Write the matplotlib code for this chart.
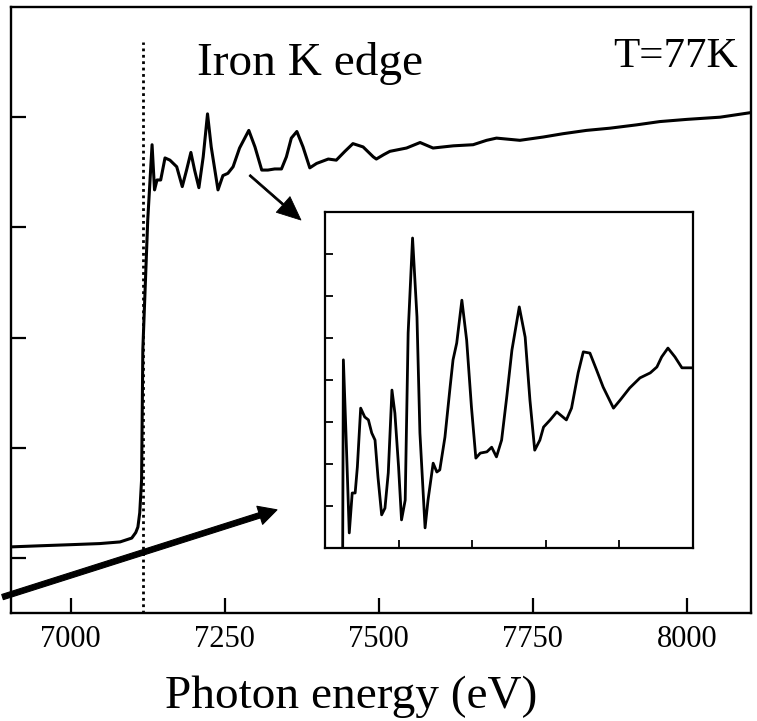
"""Iron K-edge absorption spectrum at 77 K, with a magnified inset of the EXAFS wiggles."""

import matplotlib

matplotlib.use("Agg")
import matplotlib.pyplot as plt

plt.rcParams["font.family"] = ["Liberation Serif", "DejaVu Serif"]

# main spectrum: photon energy (eV) vs absorption (arb. units, ticks at 0..4)
ENERGY = [6903, 6950, 7000, 7047, 7080, 7099, 7105.5, 7109, 7112, 7115, 7117, 7125, 7132,
          7136, 7140, 7146, 7153, 7161, 7172, 7181, 7188, 7195, 7201, 7208, 7215, 7222,
          7228, 7239, 7247, 7255, 7263.5, 7274, 7289, 7299, 7310, 7320, 7331, 7342, 7350,
          7358, 7367, 7377, 7388, 7399, 7418, 7431, 7445, 7458, 7474.5, 7491, 7496, 7508,
          7518, 7545, 7567, 7588, 7621, 7653, 7675, 7691, 7729, 7767, 7799, 7837, 7875,
          7918, 7956, 8000, 8054, 8102]
ABSORB = [0.10, 0.11, 0.12, 0.13, 0.145, 0.18, 0.23, 0.28, 0.41, 0.71, 1.89, 3.07, 3.75,
          3.34, 3.43, 3.43, 3.63, 3.61, 3.55, 3.37, 3.52, 3.68, 3.52, 3.36, 3.64, 4.03,
          3.73, 3.34, 3.47, 3.49, 3.55, 3.72, 3.88, 3.73, 3.52, 3.52, 3.53, 3.53, 3.64,
          3.81, 3.87, 3.73, 3.54, 3.58, 3.62, 3.61, 3.69, 3.76, 3.73, 3.64, 3.62, 3.66,
          3.69, 3.72, 3.77, 3.72, 3.74, 3.75, 3.79, 3.81, 3.79, 3.82, 3.85, 3.88, 3.90,
          3.93, 3.96, 3.98, 4.00, 4.04]

EDGE_EV = 7118

# inset: 7100-7600 eV, magnified vertical scale (ticks at 1..7)
INSET_ENERGY = [7124, 7125, 7128.5, 7133, 7137, 7141, 7144, 7148.5, 7154, 7159, 7163.5, 7168,
                7172, 7177, 7181.5, 7186, 7191, 7195, 7200, 7204, 7209, 7213, 7219, 7225,
                7229, 7236, 7240, 7247, 7252, 7256, 7263, 7270, 7274, 7279, 7286, 7292.5,
                7299, 7305, 7311, 7320, 7326.5, 7333, 7340, 7347, 7354, 7364, 7372, 7378.5,
                7385, 7392, 7397, 7406, 7415, 7428, 7435, 7444, 7451, 7460, 7469, 7478,
                7492, 7501, 7514, 7528, 7542, 7551, 7557.5, 7566, 7575.5, 7585, 7598]
INSET_ABSORB = [-0.3, 4.48, 2.74, 0.36, 1.31, 1.31, 1.93, 3.33, 3.12, 3.05, 2.74, 2.57,
                1.69, 0.79, 0.95, 1.79, 3.76, 3.21, 1.93, 0.67, 1.14, 5.12, 7.38, 5.50,
                2.74, 0.48, 1.14, 2.02, 1.81, 1.86, 2.64, 3.83, 4.48, 4.88, 5.90, 4.95,
                3.36, 2.14, 2.26, 2.29, 2.40, 2.17, 2.57, 3.60, 4.71, 5.74, 5.02, 3.52,
                2.33, 2.57, 2.88, 3.05, 3.24, 3.05, 3.33, 4.17, 4.67, 4.64, 4.24, 3.83,
                3.33, 3.52, 3.81, 4.05, 4.17, 4.31, 4.55, 4.76, 4.55, 4.29, 4.29]

MAIN_XTICKS = [7000, 7250, 7500, 7750, 8000]
MAIN_YTICKS = [0, 1, 2, 3, 4]
INSET_XTICKS = [7200, 7300, 7400, 7500]
INSET_YTICKS = [1, 2, 3, 4, 5, 6, 7]


def main() -> None:
    fig = plt.figure(figsize=(7.57, 7.21), dpi=100)
    ax = fig.add_axes([0.0145, 0.1498, 0.9775, 0.8405])
    ax.plot(ENERGY, ABSORB, color="black", lw=2.2, solid_joinstyle="round")
    ax.plot([EDGE_EV, EDGE_EV], [-0.5, 4.68], color="black", lw=2.0, linestyle=(0, (1.0, 1.3)))
    ax.set_xlim(6903, 8104)
    ax.set_ylim(-0.5, 5.0)
    ax.set_xticks(MAIN_XTICKS)
    ax.set_yticks(MAIN_YTICKS)
    ax.set_yticklabels([])
    ax.tick_params(direction="in", length=10.5, width=1.6, labelsize=22, pad=9)
    for s in ax.spines.values():
        s.set_linewidth(1.7)

    fig.text(197 / 757, 1 - 75 / 721, "Iron K edge", fontsize=34, va="baseline", ha="left")
    fig.text(738 / 757, 1 - 67 / 721, "T=77K", fontsize=31, va="baseline", ha="right")
    fig.text(351 / 757, 1 - 708 / 721, "Photon energy (eV)", fontsize=34, va="baseline", ha="center")

    # small arrow from the wiggles to the inset
    ax.annotate("", xy=(7377, 3.05), xytext=(7287, 3.49),
                arrowprops=dict(arrowstyle="simple,head_length=1.0,head_width=0.88,tail_width=0.08",
                                mutation_scale=17, fc="black", ec="black", lw=0.6))
    # big arrow coming in from the left edge
    ax.annotate("", xy=(7339, 0.444), xytext=(6885, -0.363), annotation_clip=False,
                arrowprops=dict(arrowstyle="simple,head_length=1.0,head_width=1.05,tail_width=0.3",
                                mutation_scale=13, fc="black", ec="black", lw=0.8, clip_on=False))

    ins = fig.add_axes([0.4293, 0.2399, 0.4861, 0.4661])
    ins.plot(INSET_ENERGY, INSET_ABSORB, color="black", lw=2.0, solid_joinstyle="round")
    ins.set_xlim(7100, 7600)
    ins.set_ylim(0, 8)
    ins.set_xticks(INSET_XTICKS)
    ins.set_yticks(INSET_YTICKS)
    ins.set_xticklabels([])
    ins.set_yticklabels([])
    ins.tick_params(direction="in", length=6, width=1.3)
    for s in ins.spines.values():
        s.set_linewidth(1.6)

    fig.savefig("out.png", dpi=100, facecolor="white")
    plt.close(fig)


if __name__ == "__main__":
    main()
